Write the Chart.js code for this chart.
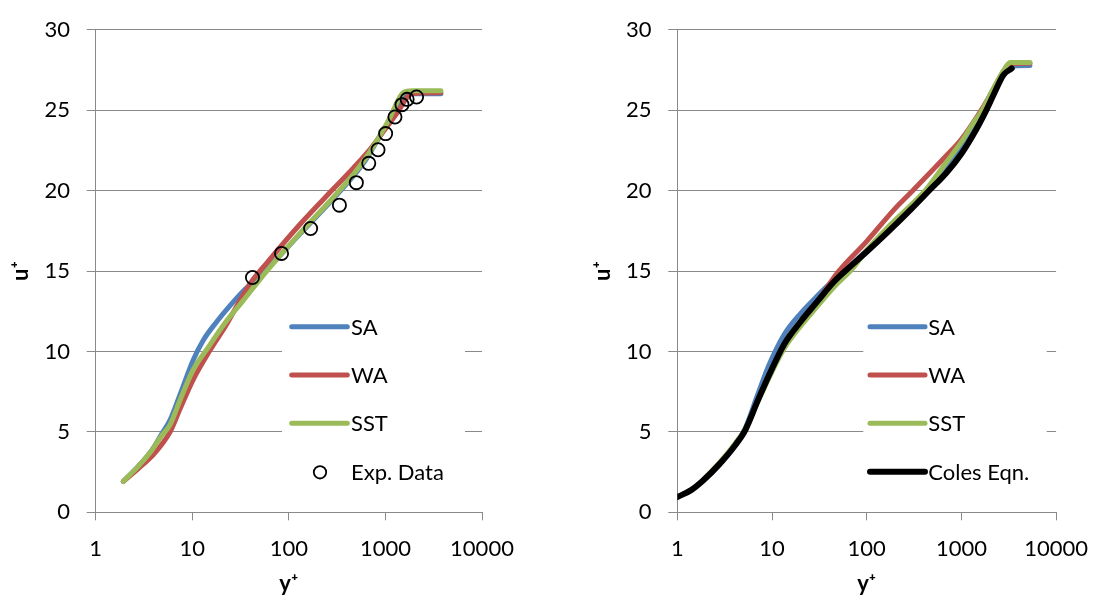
<!DOCTYPE html>
<html><head><meta charset="utf-8">
<script src="https://cdn.jsdelivr.net/npm/chart.js@4.4.0/dist/chart.umd.min.js"></script>
<style>
html,body{margin:0;padding:0;background:#fff;}
body{width:1103px;height:605px;position:relative;overflow:hidden;}
canvas{position:absolute;top:0;}
#c1{left:0}
#c2{left:550px}
</style></head><body>
<canvas id="c1" width="550" height="605"></canvas>
<canvas id="c2" width="553" height="605"></canvas>
<script>
// ---- data ----
const xTickValues = [1, 10, 100, 1000, 10000];
const yRange = [0, 30];
const yStep = 5;
const xTitle = 'y\u207A';
const yTitle = 'u\u207A';
const seriesLabels = ['SA', 'WA', 'SST'];
const expLabel = 'Exp. Data';
const colesLabel = 'Coles Eqn.';

// left panel: [y+, u+]
const leftSA = [[1.93,1.92],[2.8,2.9],[3.8,3.85],[4.8,4.85],[5.9,5.75],[7.5,7.35],[10.2,9.45],[13,10.7],[17.9,11.85],[24.6,12.85],[35,13.85],[59,15.1],[130,17.3],[288,19.5],[464,20.9],[638,22.0],[877,23.4],[1114,24.4],[1306,25.2],[1530,25.8],[1800,26.03],[3750,26.03]];
const leftWA = [[1.93,1.92],[2.8,2.75],[3.9,3.55],[4.8,4.2],[5.9,5.0],[7.5,6.45],[10.2,8.24],[15.2,10.06],[22.7,11.7],[30,13.0],[40,14.25],[59,15.5],[130,17.9],[288,20.1],[464,21.4],[700,22.6],[1000,23.85],[1361,24.95],[1650,25.75],[1900,26.05],[3750,26.1]];
const leftSST = [[1.93,1.92],[2.8,2.9],[3.8,3.85],[4.8,4.75],[5.9,5.45],[7.5,7.0],[10.2,8.85],[15.2,10.4],[22,11.8],[33,13.1],[59,15.0],[130,17.35],[288,19.58],[464,21.0],[638,22.11],[877,23.43],[1114,24.54],[1306,25.45],[1530,26.1],[1900,26.22],[3750,26.22]];
const leftExp = [[42,14.6],[84,16.1],[168,17.65],[334,19.1],[500,20.5],[672,21.7],[838,22.55],[1005,23.55],[1255,24.58],[1485,25.35],[1677,25.68],[2100,25.83]];

// right panel: [y+, u+]
const rightSA = [[1.9,2.0],[2.8,3.0],[4.1,4.25],[5.2,5.2],[7,7.25],[9.2,9.1],[13.5,11.07],[20.2,12.39],[30,13.45],[45,14.45],[72,15.5],[100,16.3],[172,17.65],[300,19.0],[447,20.1],[692,21.4],[1000,22.7],[1350,24.0],[1656,25.0],[2200,26.35],[2800,27.35],[3300,27.75],[5300,27.78]];
const rightWA = [[1.9,2.0],[2.8,3.0],[4.1,4.2],[5.2,5.1],[7,6.9],[9.2,8.5],[13.5,10.3],[20.2,11.8],[30,13.1],[50,14.95],[100,16.85],[200,18.9],[300,19.95],[500,21.3],[700,22.2],[1000,23.2],[1500,24.7],[2000,25.9],[2700,27.3],[3300,27.9],[5300,27.92]];
const rightSST = [[1.9,2.05],[2.8,3.1],[4.1,4.3],[5.2,5.15],[7,6.8],[9.2,8.3],[13.5,10.2],[20.2,11.6],[30,12.8],[45,14.0],[72,15.2],[100,16.3],[172,17.8],[382,19.78],[447,20.25],[700,21.8],[991,23.0],[1300,24.1],[1656,25.0],[2200,26.4],[2800,27.5],[3260,27.98],[5300,27.98]];
const rightColes = [[1,0.95],[1.4,1.38],[1.86,1.96],[2.77,2.98],[4.11,4.19],[5.21,5.1],[7.16,7.02],[9.86,8.85],[13.5,10.47],[20.2,11.88],[30,13.1],[44.6,14.31],[72,15.45],[100,16.2],[172,17.5],[300,18.9],[447,19.95],[692,21.1],[1000,22.3],[1400,23.7],[1830,25.0],[2200,26.0],[2780,27.2],[3400,27.6]];

// ---- styling ----
const COLORS = {SA:'#4F81BD', WA:'#C0504D', SST:'#9BBB59', black:'#000000', grid:'#898989'};
const FONT = "Lato, 'DejaVu Sans', sans-serif";

function pts(a){ return a.map(p => ({x:p[0], y:p[1]})); }

function lineDs(label, data, color, order, width){
  return {label, data: pts(data), borderColor: color, backgroundColor: color,
    borderWidth: width || 5, pointRadius: 0, showLine: true, fill: false,
    cubicInterpolationMode: 'monotone', borderCapStyle: 'round', borderJoinStyle: 'round', order};
}

const boxLegend = {
  id: 'boxLegend',
  afterDatasetsDraw(chart, args, o){
    const ctx = chart.ctx;
    ctx.save();
    ctx.fillStyle = '#fff';
    ctx.fillRect(o.box[0], o.box[1], o.box[2], o.box[3]);
    ctx.font = '22px ' + FONT;
    ctx.textBaseline = 'alphabetic';
    ctx.textAlign = 'left';
    chart.data.datasets.forEach((ds, i) => {
      const y = o.rows[i];
      if (ds.showLine === false) {
        ctx.beginPath();
        ctx.arc(o.markerX, y, 6.2, 0, Math.PI*2);
        ctx.lineWidth = 1.8; ctx.strokeStyle = '#000'; ctx.stroke();
      } else {
        ctx.beginPath();
        ctx.moveTo(o.lineX[0], y); ctx.lineTo(o.lineX[1], y);
        ctx.lineWidth = ds.borderWidth; ctx.lineCap = 'round';
        ctx.strokeStyle = ds.borderColor; ctx.stroke();
      }
      ctx.fillStyle = '#000';
      ctx.fillText(ds.label, o.textX, y + 8);
    });
    ctx.restore();
  }
};

function makeChart(id, datasets, axisW, padRight, legendOpts){
  return new Chart(document.getElementById(id), {
    type: 'scatter',
    data: {datasets},
    plugins: [boxLegend],
    options: {
      responsive: false, animation: false, devicePixelRatio: 1,
      layout: {padding: {left: 0, right: padRight, top: 18.5, bottom: 0}},
      plugins: {legend: {display: false}, tooltip: {enabled: false}, boxLegend: legendOpts},
      scales: {
        x: {
          type: 'logarithmic', min: xTickValues[0], max: xTickValues[xTickValues.length-1],
          afterBuildTicks: s => { s.ticks = xTickValues.map(v => ({value: v, major: true})); },
          afterFit: s => { s.height = 92.7; },
          ticks: {callback: v => String(v), color: '#000', font: {family: FONT, size: 22}, padding: 15, maxRotation: 0, autoSkip: false},
          grid: {drawOnChartArea: false, drawTicks: true, tickLength: 8, color: COLORS.grid, lineWidth: 1},
          border: {display: true, color: COLORS.grid, width: 1},
          title: {display: true, text: xTitle, color: '#000', font: {family: FONT, size: 22, weight: 'bold'}, padding: {top: 0, bottom: 8}}
        },
        y: {
          type: 'linear', min: yRange[0], max: yRange[1],
          afterFit: s => { s.width = axisW; },
          ticks: {stepSize: yStep, color: '#000', font: {family: FONT, size: 22}, padding: 16.7},
          grid: {drawTicks: true, tickLength: 9, color: COLORS.grid, lineWidth: 1},
          border: {display: true, color: COLORS.grid, width: 1},
          title: {display: true, text: yTitle, color: '#000', font: {family: FONT, size: 22, weight: 'bold'}, padding: {top: axisW - 87.7, bottom: 0}}
        }
      }
    }
  });
}

function build(){
  const leftSets = [
    lineDs(seriesLabels[0], leftSA, COLORS.SA, 4),
    lineDs(seriesLabels[1], leftWA, COLORS.WA, 3),
    lineDs(seriesLabels[2], leftSST, COLORS.SST, 2),
    {label: expLabel, data: pts(leftExp), showLine: false, pointRadius: 6.6, pointBorderWidth: 1.8,
     pointBorderColor: '#000', pointBackgroundColor: 'rgba(0,0,0,0)', borderColor: '#000', backgroundColor: 'rgba(0,0,0,0)', order: 1}
  ];
  makeChart('c1', leftSets, 95.7, 68, {
    box: [282, 302, 183, 193], rows: [326.7, 375, 423.3, 472.3], lineX: [291.7, 347.3], textX: 351, markerX: 320
  });
  const rightSets = [
    lineDs(seriesLabels[0], rightSA, COLORS.SA, 4),
    lineDs(seriesLabels[1], rightWA, COLORS.WA, 3),
    lineDs(seriesLabels[2], rightSST, COLORS.SST, 2),
    lineDs(colesLabel, rightColes, COLORS.black, 1, 6)
  ];
  makeChart('c2', rightSets, 127.3, 40, {
    box: [313.3, 302, 183.4, 193], rows: [326.7, 375, 423.3, 471.7], lineX: [320, 375], textX: 378.3, markerX: 340
  });
}

if (document.fonts && document.fonts.load) {
  Promise.all([document.fonts.load('22px Lato'), document.fonts.load('bold 22px Lato')]).then(build, build);
} else { build(); }
</script>
</body></html>
